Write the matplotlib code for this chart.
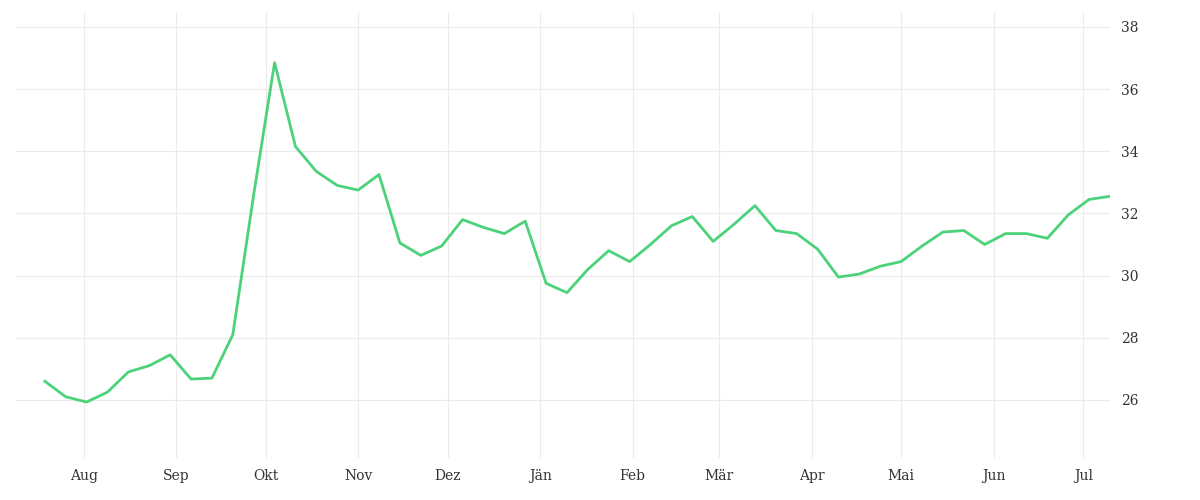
import matplotlib
matplotlib.use("Agg")
import matplotlib.pyplot as plt
import matplotlib.dates as mdates
import numpy as np
import datetime as dt

start = dt.date(2023, 7, 19)
values = [26.6, 26.1, 25.93, 26.25, 26.9, 27.1, 27.45, 26.67, 26.7, 28.1,
          32.6, 36.85, 34.15, 33.35, 32.9, 32.75, 33.25, 31.05, 30.65, 30.95,
          31.8, 31.55, 31.35, 31.75, 29.75, 29.45, 30.2, 30.8, 30.45, 31.0,
          31.6, 31.9, 31.1, 31.65, 32.25, 31.45, 31.35, 30.85, 29.95, 30.05,
          30.3, 30.45, 30.95, 31.4, 31.45, 31.0, 31.35, 31.35, 31.2, 31.95,
          32.45, 32.55]
dates = [start + dt.timedelta(weeks=i) for i in range(len(values))]
month_labels = ["Aug", "Sep", "Okt", "Nov", "Dez", "Jän", "Feb", "Mär", "Apr", "Mai", "Jun", "Jul"]
month_ticks = [dt.date(2023, 8, 1) + dt.timedelta(0)]
month_ticks = [dt.date(2023 + (7 + i) // 12, (7 + i) % 12 + 1, 1) for i in range(12)]
yticks = [26, 28, 30, 32, 34, 36, 38]

fig = plt.figure(figsize=(12, 5), dpi=100)
ax = fig.add_axes([15/1200, 42/500, 1095/1200, 446/500])
ax.plot(dates, values, color="#4cd27a", lw=2)
ax.set_xlim(dt.date(2023, 7, 9), dates[-1] + dt.timedelta(days=0.5))
ax.set_ylim(24.13, 38.48)
ax.set_xticks(month_ticks)
ax.set_xticklabels(month_labels)
ax.set_yticks(yticks)
ax.yaxis.tick_right()
ax.grid(True, color="#ebebeb", lw=0.8)
for s in ax.spines.values():
    s.set_visible(False)
ax.tick_params(length=0, labelsize=10, colors="#333333", pad=8)
for lab in ax.get_xticklabels() + ax.get_yticklabels():
    lab.set_family("DejaVu Serif")
fig.savefig("out.png")
